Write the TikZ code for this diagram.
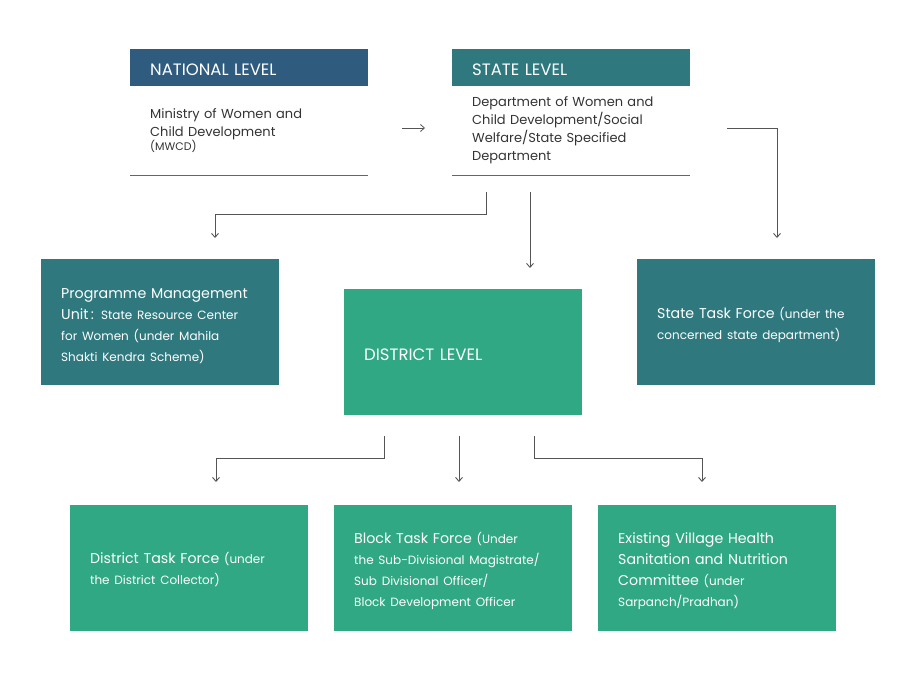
\documentclass[tikz,border=0pt]{standalone}
\usepackage{fontspec}
\setmainfont{Poppins}
\usetikzlibrary{arrows.meta}
\definecolor{navy}{HTML}{2F5B7F}
\definecolor{teal2}{HTML}{2E787E}
\definecolor{green2}{HTML}{30A883}
\definecolor{bodytxt}{HTML}{333333}
\definecolor{rule}{HTML}{55697A}
\definecolor{conncol}{HTML}{555555}
\newcommand{\bigf}{\fontsize{14.2}{21}\selectfont}
\newcommand{\capf}{\fontsize{16.5}{21}\selectfont}
\newcommand{\smf}{\fontsize{12}{21}\selectfont}
\tikzset{
  hdr/.style={anchor=north west, minimum height=37pt, inner xsep=20pt, inner ysep=0pt, text width=198pt, align=left, text=white, text height=15pt, text depth=0pt, font=\capf},
  body/.style={anchor=north west, minimum height=89pt, inner xsep=20pt, inner ysep=0pt, text width=198pt, align=left, text=bodytxt, font=\fontsize{13}{18}\selectfont},
  box/.style={anchor=north west, minimum height=126pt, inner xsep=20pt, inner ysep=0pt, text width=198pt, align=left, text=white, text height=17pt, font=\bigf},
  conn/.style={draw=conncol, line width=0.9pt, -{Straight Barb[length=4pt,width=7pt]}},
  rulel/.style={draw=rule, line width=1.3pt}
}
\begin{document}
\begin{tikzpicture}[x=1pt,y=-1pt]
\useasboundingbox (0,0) rectangle (915,674);
% top level
\node[hdr, fill=navy] (nath) at (130,49) {NATIONAL LEVEL};
\node[body] (natb) at (130,86) {Ministry of Women and\\Child Development\\[-4pt]{\fontsize{11}{12}\selectfont (MWCD)}};
\draw[rulel] (natb.south west) -- (natb.south east);
\node[hdr, fill=teal2] (sth) at (452,49) {STATE LEVEL};
\node[body] (stb) at (452,86) {Department of Women and\\Child Development/Social\\Welfare/State Specified\\Department};
\draw[rulel] (stb.south west) -- (stb.south east);
% second level
\node[box, fill=teal2] (pmu) at (41,259) {Programme Management\\Unit\,: {\smf State Resource Center}\\{\smf for Women (under Mahila}\\{\smf Shakti Kendra Scheme)}};
\node[box, fill=green2, text height=17pt, text depth=0pt, font=\capf] (dist) at (344,289) {DISTRICT LEVEL};
\node[box, fill=teal2] (stf) at (637,259) {State Task Force {\smf (under the}\\{\smf concerned state department)}};
% third level
\node[box, fill=green2, text height=14pt] (dtf) at (70,505) {District Task Force {\smf (under}\\{\smf the District Collector)}};
\node[box, fill=green2] (btf) at (334,505) {Block Task Force {\smf (Under}\\{\smf the Sub-Divisional Magistrate/}\\{\smf Sub Divisional Officer/}\\{\smf Block Development Officer}};
\node[box, fill=green2] (vh) at (598,505) {Existing Village Health\\Sanitation and Nutrition\\Committee {\smf (under}\\{\smf Sarpanch/Pradhan)}};
% connector points
\coordinate (n1) at (402,128);
\coordinate (n2) at (425,128);
\coordinate (a1) at (486,192);
\coordinate (a2) at (215,214);
\coordinate (a3) at (215,238);
\coordinate (m1) at (530,192);
\coordinate (m2) at (530,268);
\coordinate (b1) at (727,128);
\coordinate (b2) at (777,238);
\coordinate (c1) at (384,436);
\coordinate (c2) at (216,458);
\coordinate (c3) at (216,482);
\coordinate (d1) at (459,436);
\coordinate (d2) at (459,482);
\coordinate (e1) at (534,436);
\coordinate (e2) at (702,458);
\coordinate (e3) at (702,482);
% connectors
\draw[conn, line width=0.8pt] (n1) -- (n2);
\draw[conn] (a1) |- (a2) -- (a3);
\draw[conn] (m1) -- (m2);
\draw[conn] (b1) -| (b2);
\draw[conn] (c1) |- (c2) -- (c3);
\draw[conn] (d1) -- (d2);
\draw[conn] (e1) |- (e2) -- (e3);
\end{tikzpicture}
\end{document}
